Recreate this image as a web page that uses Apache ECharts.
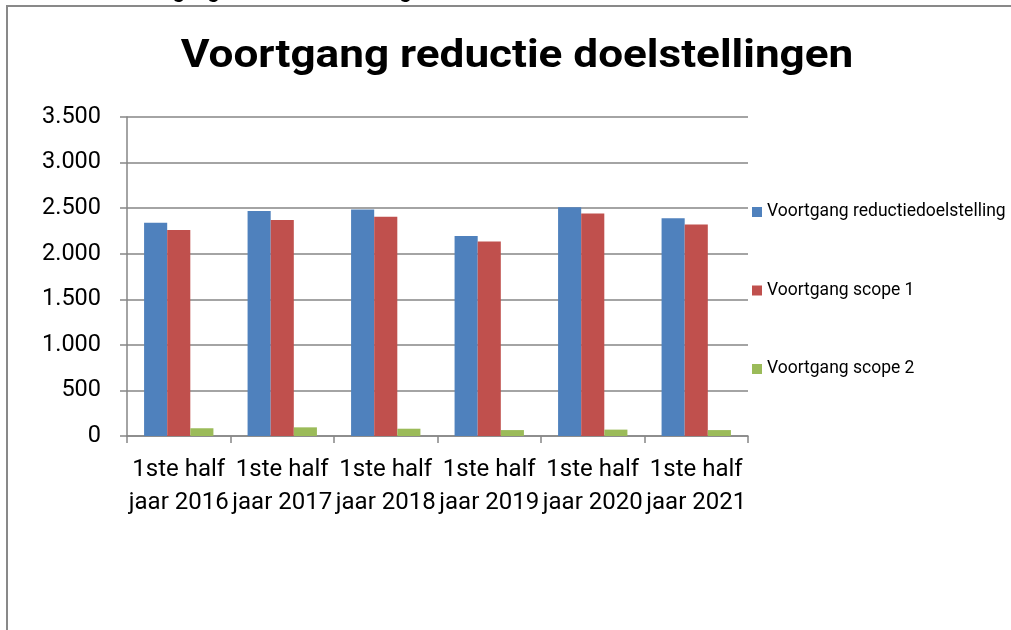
<!DOCTYPE html>
<html>
<head>
<meta charset="utf-8">
<script src="https://cdn.jsdelivr.net/npm/echarts@6/dist/echarts.min.js"></script>
<style>html,body{margin:0;padding:0;background:#fff;}#c{width:1011px;height:630px;}</style>
</head>
<body>
<div id="c"></div>
<script>
const categories = ['1ste half\njaar 2016','1ste half\njaar 2017','1ste half\njaar 2018','1ste half\njaar 2019','1ste half\njaar 2020','1ste half\njaar 2021'];
const reductie = [2340, 2470, 2485, 2195, 2510, 2390];
const scope1 = [2260, 2370, 2405, 2135, 2440, 2320];
const scope2 = [85, 95, 80, 65, 70, 65];
const seriesNames = ['Voortgang reductiedoelstelling', 'Voortgang scope 1', 'Voortgang scope 2'];
const colors = ['#4F81BD', '#C0504D', '#9BBB59'];
const yTicks = [0, 500, 1000, 1500, 2000, 2500, 3000, 3500];
const titleText = 'Voortgang reductie doelstellingen';
const cutText = 'Voortgang reductiedoelstellingen';

const FONT = 'Roboto';
const chart = echarts.init(document.getElementById('c'), null, {renderer: 'canvas'});
const gridColor = '#868686';
chart.setOption({
  animation: false,
  color: colors,
  textStyle: {fontFamily: FONT},
  graphic: [
    {type: 'rect', shape: {x: 7, y: 6, width: 1100, height: 700}, style: {fill: 'none', stroke: '#898989', lineWidth: 2}, silent: true},
    {type: 'text', x: 121, y: 3, scaleX: 1.1, style: {text: cutText, font: 'bold 19px ' + FONT, fill: '#000', align: 'left', verticalAlign: 'bottom'}},
    {type: 'text', x: 517, y: 57, scaleX: 1.16, style: {text: titleText, font: 'bold 38px ' + FONT, fill: '#000', align: 'center', verticalAlign: 'middle'}}
  ],
  legend: {
    orient: 'vertical', left: 747, top: 198,
    itemWidth: 10, itemHeight: 10, itemGap: 60.5,
    icon: 'rect',
    textStyle: {fontSize: 17.5, color: '#000', fontFamily: FONT},
    data: seriesNames
  },
  grid: {left: 127, right: 263, top: 117, bottom: 194, containLabel: false},
  xAxis: {
    type: 'category', data: categories,
    axisLine: {lineStyle: {color: gridColor, width: 1.5}},
    axisTick: {show: true, length: 7, lineStyle: {color: gridColor, width: 1.5}},
    axisLabel: {fontSize: 24, color: '#000', lineHeight: 33, margin: 17, interval: 0, fontFamily: FONT}
  },
  yAxis: {
    type: 'value', min: yTicks[0], max: yTicks[yTicks.length - 1], interval: 500,
    axisLine: {show: true, lineStyle: {color: gridColor, width: 1.5}},
    axisTick: {show: true, length: 7, lineStyle: {color: gridColor, width: 1.5}},
    splitLine: {lineStyle: {color: gridColor, width: 1.5}},
    axisLabel: {fontSize: 23.5, color: '#000', margin: 26, fontFamily: FONT,
      formatter: v => v.toString().replace(/\B(?=(\d{3})+(?!\d))/g, '.')}
  },
  series: [
    {name: seriesNames[0], type: 'bar', data: reductie, barGap: '0%', barCategoryGap: '33%'},
    {name: seriesNames[1], type: 'bar', data: scope1, barGap: '0%', barCategoryGap: '33%'},
    {name: seriesNames[2], type: 'bar', data: scope2, barGap: '0%', barCategoryGap: '33%'}
  ]
});
</script>
</body>
</html>
